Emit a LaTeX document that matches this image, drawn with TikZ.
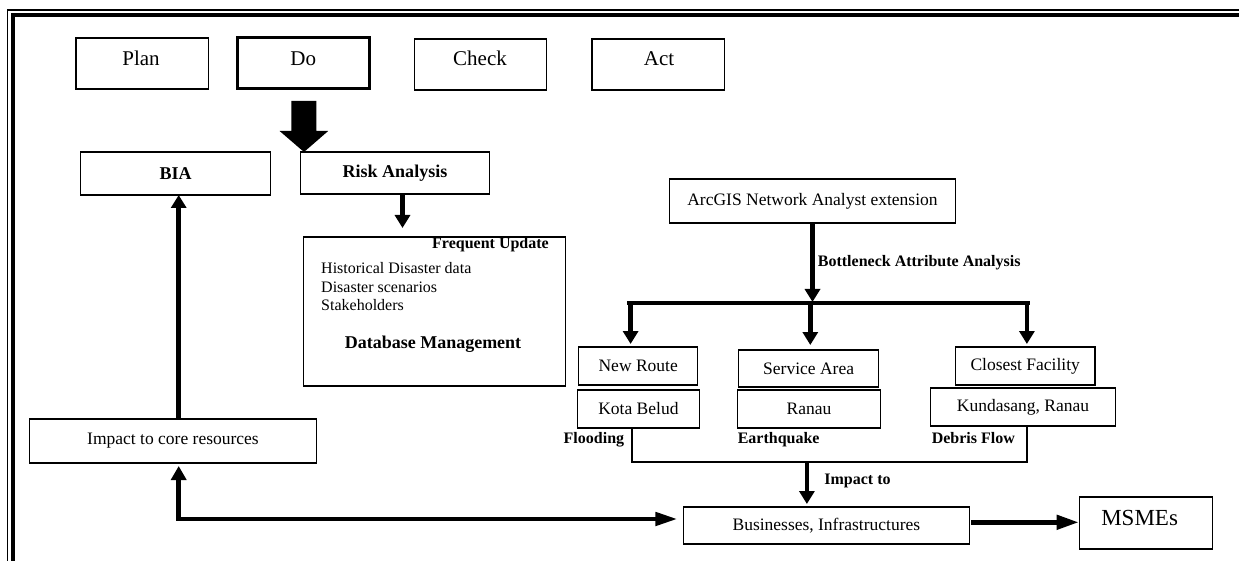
\documentclass[tikz,border=0pt]{standalone}
\usepackage{fontspec}
\setmainfont{Liberation Serif}
\usetikzlibrary{arrows.meta}
\begin{document}
\begin{tikzpicture}[x=1pt,y=-1pt,
  box/.style={draw, line width=1.1pt, inner sep=0pt, outer sep=0pt},
  fa/.style={font=\fontsize{21}{25}\selectfont},
  fb/.style={font=\fontsize{17.5}{20}\selectfont},
  fbold/.style={font=\bfseries\fontsize{18}{21}\selectfont},
  flab/.style={font=\bfseries\fontsize{16}{19}\selectfont, inner sep=0pt},
  fdb/.style={font=\fontsize{16}{18}\selectfont, inner sep=0pt},
  varr/.style={line width=4.5pt, -{Triangle[width=15pt,length=13pt]}},
  harr/.style={line width=4.5pt, -{Triangle[width=14pt,length=22pt]}},
  thinl/.style={line width=2pt}]
\useasboundingbox (0,0) rectangle (1239,561);
% frame
\draw[line width=1.1pt] (7.5,561) -- (7.5,10) -- (1239,10);
\draw[line width=4.6pt] (13,561) -- (13,15) -- (1239,15);
% PDCA row
\node[box, minimum width=132.5pt, minimum height=51pt] (plan) at (142.2,63.5) {};
\node[fa] (plant) at (141,58) {Plan};
\node[box, line width=3pt, minimum width=132pt, minimum height=51pt] (do) at (303.3,63.5) {};
\node[fa] (dot) at (303.3,58.5) {Do};
\node[box, minimum width=132.5pt, minimum height=51pt] (check) at (480.3,64.5) {};
\node[fa] (checkt) at (480,58.5) {Check};
\node[box, minimum width=132.6pt, minimum height=51pt] (act) at (658.3,64.5) {};
\node[fa] (actt) at (659,58.5) {Act};
% block arrow from Do
\fill (291.4,101) -- (316.3,101) -- (316.3,131) -- (328.2,131) -- (304,152) -- (279.6,131) -- (291.4,131) -- cycle;
% left column
\node[box, fbold, minimum width=189.8pt, minimum height=43pt] (bia) at (175.6,173.5) {BIA};
\node[box, fbold, minimum width=189pt, minimum height=42pt] (ra) at (395,173) {Risk Analysis};
\node[box, minimum width=261.7pt, minimum height=149pt] (db) at (434.5,311.5) {};
\node[flab, anchor=base east] (fu) at (549,249) {Frequent Update};
\node[fdb, anchor=base west] (h1) at (321,274) {Historical Disaster data};
\node[fdb, anchor=base west] (h2) at (321,292) {Disaster scenarios};
\node[fdb, anchor=base west] (h3) at (321,310) {Stakeholders};
\node[fbold, anchor=base, inner sep=0pt] (dbm) at (433,348.5) {Database Management};
\node[box, fb, minimum width=286.6pt, minimum height=44pt] (impact) at (173,441) {Impact to core resources};
% right part
\node[box, fb, minimum width=285.8pt, minimum height=44pt] (arc) at (812.5,201) {ArcGIS Network Analyst extension};
\node[box, fb, minimum width=119.1pt, minimum height=38pt] (nr) at (638.2,366) {New Route};
\node[box, fb, minimum width=139.4pt, minimum height=37pt] (sa) at (808.6,368.5) {Service Area};
\node[box, fb, minimum width=139.5pt, minimum height=38pt] (cf) at (1025.2,366) {Closest Facility};
\node[box, fb, minimum width=122.2pt, minimum height=38pt] (kb) at (638.4,409) {Kota Belud};
\node[box, fb, minimum width=142.9pt, minimum height=38pt] (rn) at (809,409) {Ranau};
\node[box, fb, minimum width=185.4pt, minimum height=38pt] (kr) at (1023,407) {Kundasang, Ranau};
\node[box, fb, minimum width=285.9pt, minimum height=37pt] (bus) at (826.4,525.5) {Businesses, Infrastructures};
\node[box, minimum width=133pt, minimum height=52pt] (ms) at (1146.2,523) {};
\node[font=\fontsize{23}{26}\selectfont] (mst) at (1139.6,518) {MSMEs};
% labels
\node[flab, anchor=base west] (lbot) at (817.7,267) {Bottleneck Attribute Analysis};
\node[flab, anchor=base west] (lfl) at (563.5,443) {Flooding};
\node[flab, anchor=base west] (leq) at (737.6,443) {Earthquake};
\node[flab, anchor=base west] (ldf) at (931.6,443) {Debris Flow};
\node[flab, anchor=base west] (limp) at (824.2,484) {Impact to};
% helper coordinates
\coordinate (xbia) at (178.7,0);
\coordinate (xra) at (402.5,0);
\coordinate (ybot) at (0,519);
\coordinate (ybar) at (0,303);
\coordinate (xa1) at (630.6,0);
\coordinate (xa2) at (810.3,0);
\coordinate (xa3) at (1026.9,0);
\coordinate (xbl) at (627,0);
\coordinate (xbr) at (1030,0);
\coordinate (xl) at (631.5,0);
\coordinate (xr) at (1026.9,0);
\coordinate (ybr) at (0,462);
\coordinate (xmid) at (806.9,0);
\coordinate (ybm) at (0,522.3);
% connectors
\draw[varr] (ra.south -| xra) -- (db.north -| xra) [shorten >=9pt];
\draw[varr] (impact.north -| xbia) -- (bia.south -| xbia);
\draw[line width=4.5pt, {Triangle[width=15pt,length=14pt]}-{Triangle[width=13pt,length=22pt]}, shorten <=3pt, shorten >=6pt]
  (impact.south -| xbia) -- (xbia |- ybot) -- (bus.west |- ybot);
\draw[harr, shorten <=2pt, shorten >=1pt] (bus.east |- ybm) -- (ms.west |- ybm);
\draw[varr, shorten >=1pt] (arc.south) -- (arc.south |- ybar);
\draw[line width=4.5pt] (xbl |- ybar) -- (xbr |- ybar);
\draw[varr, shorten >=3pt] (xa1 |- ybar) -- (nr.north -| xa1);
\draw[varr, shorten >=5pt] (xa2 |- ybar) -- (sa.north -| xa2);
\draw[varr, shorten >=3pt] (xa3 |- ybar) -- (cf.north -| xa3);
\draw[thinl] (kb.south -| xl) -- (xl |- ybr) -- (xr |- ybr) -- (kr.south -| xr);
\draw[varr, shorten >=3pt] (xmid |- ybr) -- (bus.north -| xmid);
\end{tikzpicture}
\end{document}
